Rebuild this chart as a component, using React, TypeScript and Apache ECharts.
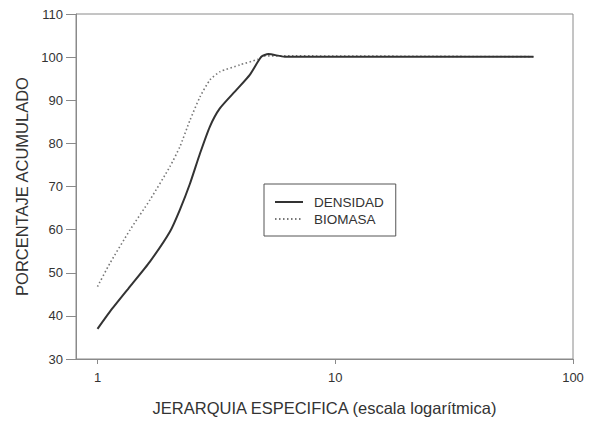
import React, { useEffect, useRef } from "react";
import * as echarts from "echarts";

const densidadX = [1, 1.128, 1.369, 1.662, 2.016, 2.22, 2.45, 2.7, 2.97, 3.27, 3.84, 4.37, 4.89, 5.23, 6.13, 68.2];
const densidadY = [37.0, 41.0, 46.8, 52.6, 59.5, 64.6, 70.7, 77.7, 83.9, 88.1, 92.4, 95.9, 100.1, 100.7, 100.1, 100.1];

const biomasaX = [1, 1.128, 1.369, 1.662, 2.016, 2.22, 2.45, 2.7, 2.97, 3.27, 3.97, 4.73, 5.0, 68.2];
const biomasaY = [46.8, 52.2, 59.9, 66.9, 74.6, 79.2, 85.4, 90.8, 94.7, 96.6, 98.2, 99.5, 100.3, 100.1];

const xTicks = [1, 10, 100];
const seriesNames = ["DENSIDAD", "BIOMASA"];

const FONT = "'Liberation Sans', Arial, sans-serif";

export default function App() {
  const ref = useRef<HTMLDivElement>(null);
  useEffect(() => {
    if (!ref.current) return;
    const chart = echarts.init(ref.current, undefined, { renderer: "svg" });
    chart.setOption({
      animation: false,
      backgroundColor: "#ffffff",
      textStyle: { fontFamily: FONT },
      grid: {
        left: 76,
        right: 21,
        top: 14,
        bottom: 63,
        containLabel: false,
        show: true,
        borderColor: "#8a8a8a",
        borderWidth: 1,
      },
      legend: {
        orient: "vertical",
        left: 264,
        top: 184,
        padding: [11, 12, 10, 10],
        borderColor: "#555",
        borderWidth: 1,
        itemWidth: 28,
        itemHeight: 14,
        itemGap: 3,
        itemStyle: { opacity: 0 },
        textStyle: { fontFamily: FONT, fontSize: 13.5, color: "#333", padding: [0, 0, 0, 6] },
        data: seriesNames,
      },
      xAxis: {
        type: "log",
        logBase: 10,
        min: 0.812,
        max: 100,
        name: "JERARQUIA ESPECIFICA (escala logarítmica)",
        nameLocation: "middle",
        nameGap: 40,
        nameTextStyle: { fontFamily: FONT, fontSize: 16.5, color: "#333" },
        axisLine: { lineStyle: { color: "#8a8a8a", width: 1 } },
        axisTick: { show: true, length: 5, customValues: xTicks, lineStyle: { color: "#8a8a8a" } },
        axisLabel: {
          customValues: xTicks,
          margin: 12,
          fontFamily: FONT,
          fontSize: 13,
          color: "#333",
          formatter: (v: number) => String(Math.round(v)),
        },
        splitLine: { show: false },
        minorTick: { show: false },
      },
      yAxis: {
        type: "value",
        min: 30,
        max: 110,
        interval: 10,
        name: "PORCENTAJE ACUMULADO",
        nameLocation: "middle",
        nameGap: 45,
        nameTextStyle: { fontFamily: FONT, fontSize: 16.5, color: "#333" },
        axisLine: { show: true, lineStyle: { color: "#8a8a8a", width: 1 } },
        axisTick: { show: true, length: 10, lineStyle: { color: "#8a8a8a" } },
        axisLabel: { margin: 13, fontFamily: FONT, fontSize: 13, color: "#333" },
        splitLine: { show: false },
      },
      series: [
        {
          name: seriesNames[0],
          type: "line",
          symbol: "none",
          smooth: 0.2,
          data: densidadX.map((x, i) => [x, densidadY[i]]),
          lineStyle: { color: "#333333", width: 2, type: "solid" },
          itemStyle: { color: "#333333" },
          z: 3,
        },
        {
          name: seriesNames[1],
          type: "line",
          symbol: "none",
          smooth: 0.2,
          data: biomasaX.map((x, i) => [x, biomasaY[i]]),
          lineStyle: { color: "#777777", width: 1.6, type: [1.5, 2.5] },
          itemStyle: { color: "#777777" },
          z: 2,
        },
      ],
    });
    return () => chart.dispose();
  }, []);
  return (
    <div
      ref={ref}
      style={{ position: "absolute", left: 0, top: 0, width: 594, height: 422 }}
    />
  );
}
